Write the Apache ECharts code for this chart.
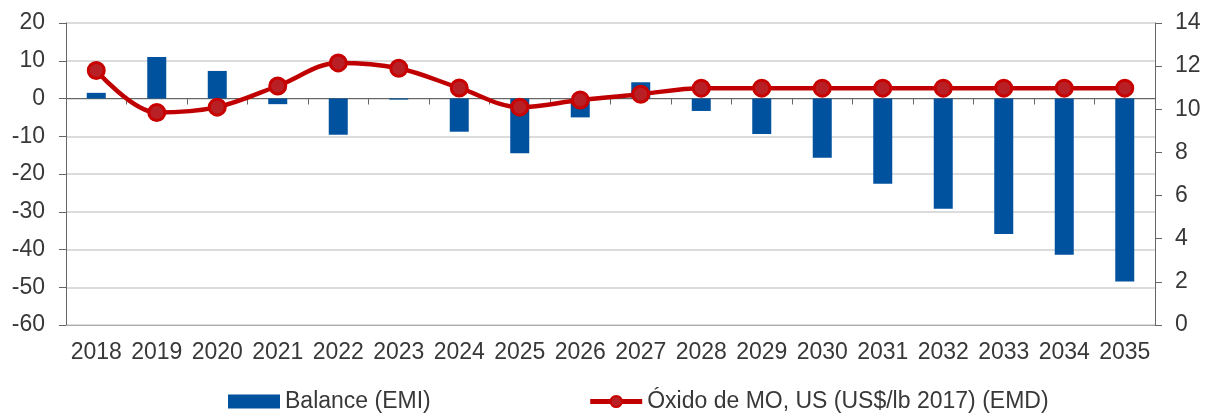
<!DOCTYPE html>
<html>
<head>
<meta charset="utf-8">
<script src="https://cdn.jsdelivr.net/npm/echarts@6/dist/echarts.min.js"></script>
<style>
  html, body { margin: 0; padding: 0; background: #fff; }
  #main { width: 1214px; height: 414px; }
</style>
</head>
<body>
<div id="main"></div>
<script>
// datos
var years = ['2018', '2019', '2020', '2021', '2022', '2023', '2024', '2025', '2026',
  '2027', '2028', '2029', '2030', '2031', '2032', '2033', '2034', '2035'];
var balance = [1.5, 11, 7.3, -1.5, -9.6, -0.3, -8.8, -14.5, -5, 4.3, -3.3, -9.4,
  -15.7, -22.6, -29.2, -35.9, -41.4, -48.5];
var oxido = [11.8, 9.85, 10.1, 11.08, 12.15, 11.9, 10.99, 10.1, 10.43, 10.7, 10.98,
  10.98, 10.98, 10.98, 10.98, 10.98, 10.98, 10.98];

var chart = echarts.init(document.getElementById('main'));
var txt = { color: '#383838', fontSize: 23, fontFamily: 'Liberation Sans, Arial, sans-serif' };

var option = {
  animation: false,
  grid: { left: 66, right: 59, top: 23, bottom: 89, containLabel: false },
  legend: {
    top: 385,
    left: 223,
    itemGap: 157,
    itemWidth: 52,
    itemHeight: 14,
    textStyle: txt,
    data: [
      { name: 'Balance (EMI)', icon: 'rect', itemStyle: { color: '#00529f' } },
      { name: 'Óxido de MO, US (US$/lb 2017) (EMD)', lineStyle: { width: 5 } }
    ]
  },
  xAxis: [
    {
      type: 'category',
      data: years,
      axisLine: { onZero: false, lineStyle: { color: '#aaa' } },
      axisTick: { show: false },
      axisLabel: Object.assign({ margin: 16, interval: 0 }, txt)
    },
    {
      type: 'category',
      data: years,
      position: 'bottom',
      axisLine: { onZero: true, onZeroAxisIndex: 0, lineStyle: { color: '#666' } },
      axisTick: { show: true, length: 6, lineStyle: { color: '#666' } },
      axisLabel: { show: false }
    }
  ],
  yAxis: [
    {
      type: 'value',
      min: -60, max: 20, interval: 10,
      axisLine: { show: true, lineStyle: { color: '#666' } },
      axisTick: { show: true, length: 7, lineStyle: { color: '#666' } },
      axisLabel: Object.assign({ margin: 21 }, txt),
      splitLine: { lineStyle: { color: '#d0d0d0', width: 1.5 } }
    },
    {
      type: 'value',
      min: 0, max: 14, interval: 2,
      axisLine: { show: true, lineStyle: { color: '#666' } },
      axisTick: { show: true, length: 7, lineStyle: { color: '#666' } },
      axisLabel: Object.assign({ margin: 20 }, txt),
      splitLine: { show: false }
    }
  ],
  series: [
    {
      name: 'Balance (EMI)',
      type: 'bar',
      data: balance,
      barWidth: 19,
      itemStyle: { color: '#00529f' }
    },
    {
      name: 'Óxido de MO, US (US$/lb 2017) (EMD)',
      type: 'line',
      yAxisIndex: 1,
      data: oxido,
      smooth: 0.35,
      symbol: 'circle',
      symbolSize: 16,
      lineStyle: { color: '#c00000', width: 4.5 },
      itemStyle: { color: '#b82025', borderColor: '#c80000', borderWidth: 3 },
      z: 5
    }
  ]
};

chart.setOption(option);
</script>
</body>
</html>
